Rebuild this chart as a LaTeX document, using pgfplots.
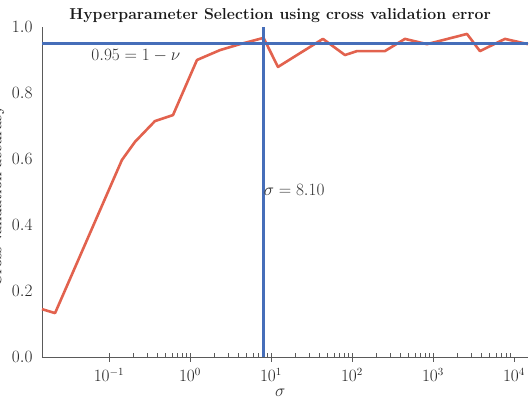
\documentclass[border=0pt]{standalone}
\usepackage{pgfplots}
\pgfplotsset{compat=1.18}
\definecolor{lred}{RGB}{226,98,78}
\definecolor{lblue}{RGB}{70,110,185}
\definecolor{axgray}{RGB}{90,90,90}
\begin{document}
\begin{tikzpicture}
\begin{axis}[
  at={(42pt,42pt)}, anchor=south west,
  scale only axis, width=486pt, height=330pt,
  xmode=log, xmin=0.0149, xmax=14900,
  ymin=0, ymax=1.0,
  axis x line*=bottom, axis y line*=left,
  axis line style={axgray, line width=0.8pt, -},
  xtick={0.1,1,10,100,1000,10000},
  ytick={0,0.2,0.4,0.6,0.8,1.0},
  yticklabel style={/pgf/number format/fixed, /pgf/number format/fixed zerofill, /pgf/number format/precision=1, xshift=-6pt},
  y tick style={draw=none},
  tick align=inside,
  major tick length=5pt, minor tick length=4pt,
  every major x tick/.append style={yshift=-5pt, axgray, line width=0.6pt},
  every minor x tick/.append style={axgray, line width=0.6pt},
  tick label style={font=\fontsize{16}{19}\selectfont, text=black!85},
  xticklabel style={yshift=-8pt},
  title={\textbf{Hyperparameter Selection using cross validation error}},
  title style={at={(axis description cs:0.49,1)}, anchor=center, yshift=5pt, font=\fontsize{15.8}{18}\selectfont, text=black!90},
  xlabel={$\sigma$},
  xlabel style={at={(axis description cs:0.49,0)}, anchor=center, yshift=-36pt, font=\fontsize{16}{19}\selectfont, text=black!80},
  ylabel={\textbf{Cross validation accuracy}},
  ylabel style={at={(axis description cs:-0.091,0.487)}, anchor=center, font=\fontsize{14.3}{17}\selectfont, text=black!80},
  clip=false,
]
\addplot[lred, line width=2.6pt, line join=round] coordinates {
(0.0149,0.145) (0.0216,0.133) (0.1445,0.597) (0.2096,0.652) (0.370,0.715)
(0.617,0.733) (1.22,0.900) (2.35,0.930) (4.14,0.948) (8.1,0.967)
(12.2,0.879) (43.8,0.964) (82,0.915) (115,0.927) (255,0.927)
(451,0.964) (843,0.948) (2630,0.979) (3800,0.927) (7740,0.964) (14900,0.948)
};
\addplot[lblue, line width=2.6pt] coordinates {(0.0149,0.95) (14900,0.95)};
\addplot[lblue, line width=2.8pt] coordinates {(8.1,0) (8.1,1.0)};
\node[font=\fontsize{16}{19}\selectfont, text=black!80] at (axis cs:0.215,0.912) {$0.95 = 1-\nu$};
\node[font=\fontsize{16}{19}\selectfont, text=black!80, anchor=west, inner sep=0pt] at (axis cs:8.1,0.505) {$\sigma = 8.10$};
\end{axis}
\pgfresetboundingbox
\path[use as bounding box] (0,0) rectangle (531pt,399pt);
\end{tikzpicture}
\end{document}
